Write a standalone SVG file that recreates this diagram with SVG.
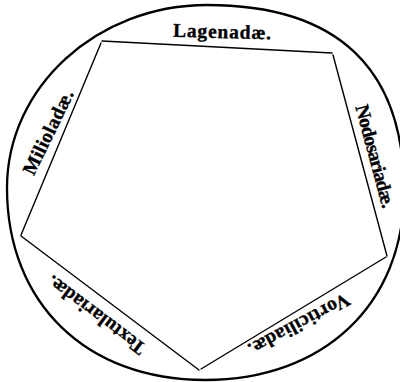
<svg xmlns="http://www.w3.org/2000/svg" width="400" height="382" viewBox="0 0 400 382">
  <style>
    .outline { fill: none; stroke: #000; stroke-width: 2.3; }
    .edge { fill: none; stroke: #000; stroke-width: 1.4; stroke-linecap: round; }
    .lbl { font-family: "Liberation Serif", "DejaVu Serif", serif; font-weight: bold; font-size: 19.5px; fill: #000; stroke: #000; stroke-width: 0.35; text-anchor: middle; }
  </style>
  <rect width="400" height="382" fill="#fff"/>
  <g id="circle">
    <path class="outline" d="M207,5 C337,5 404,68 404,191 C404,304 324,380 205,380 C86,380 7,303 7,188 C7,87 97,5 207,5 Z"/>
  </g>
  <g id="connectors">
    <line class="edge" x1="102" y1="41" x2="332" y2="53"/>
    <line class="edge" x1="333" y1="55" x2="387" y2="256"/>
    <line class="edge" x1="386" y1="257" x2="201" y2="369"/>
    <line class="edge" x1="199" y1="370" x2="21" y2="236"/>
    <line class="edge" x1="21" y1="235" x2="101" y2="43"/>
  </g>
  <g id="lagenadae">
    <text class="lbl" x="222" y="38" textLength="98" transform="rotate(1.5 222 38)">Lagenadæ.</text>
  </g>
  <g id="nodosariadae">
    <text class="lbl" x="369" y="158" textLength="106" transform="rotate(75 369 158)">Nodosariadæ.</text>
  </g>
  <g id="vorticiliadae">
    <text class="lbl" x="296" y="319" textLength="112" transform="rotate(152 296 319)">Vorticiliadæ.</text>
  </g>
  <g id="textulariadae">
    <text class="lbl" x="100" y="310" textLength="118" transform="rotate(217 100 310)">Textulariadæ.</text>
  </g>
  <g id="milioladae">
    <text class="lbl" x="54" y="135" textLength="92" transform="rotate(-64 54 135)">Milioladæ.</text>
  </g>
</svg>
